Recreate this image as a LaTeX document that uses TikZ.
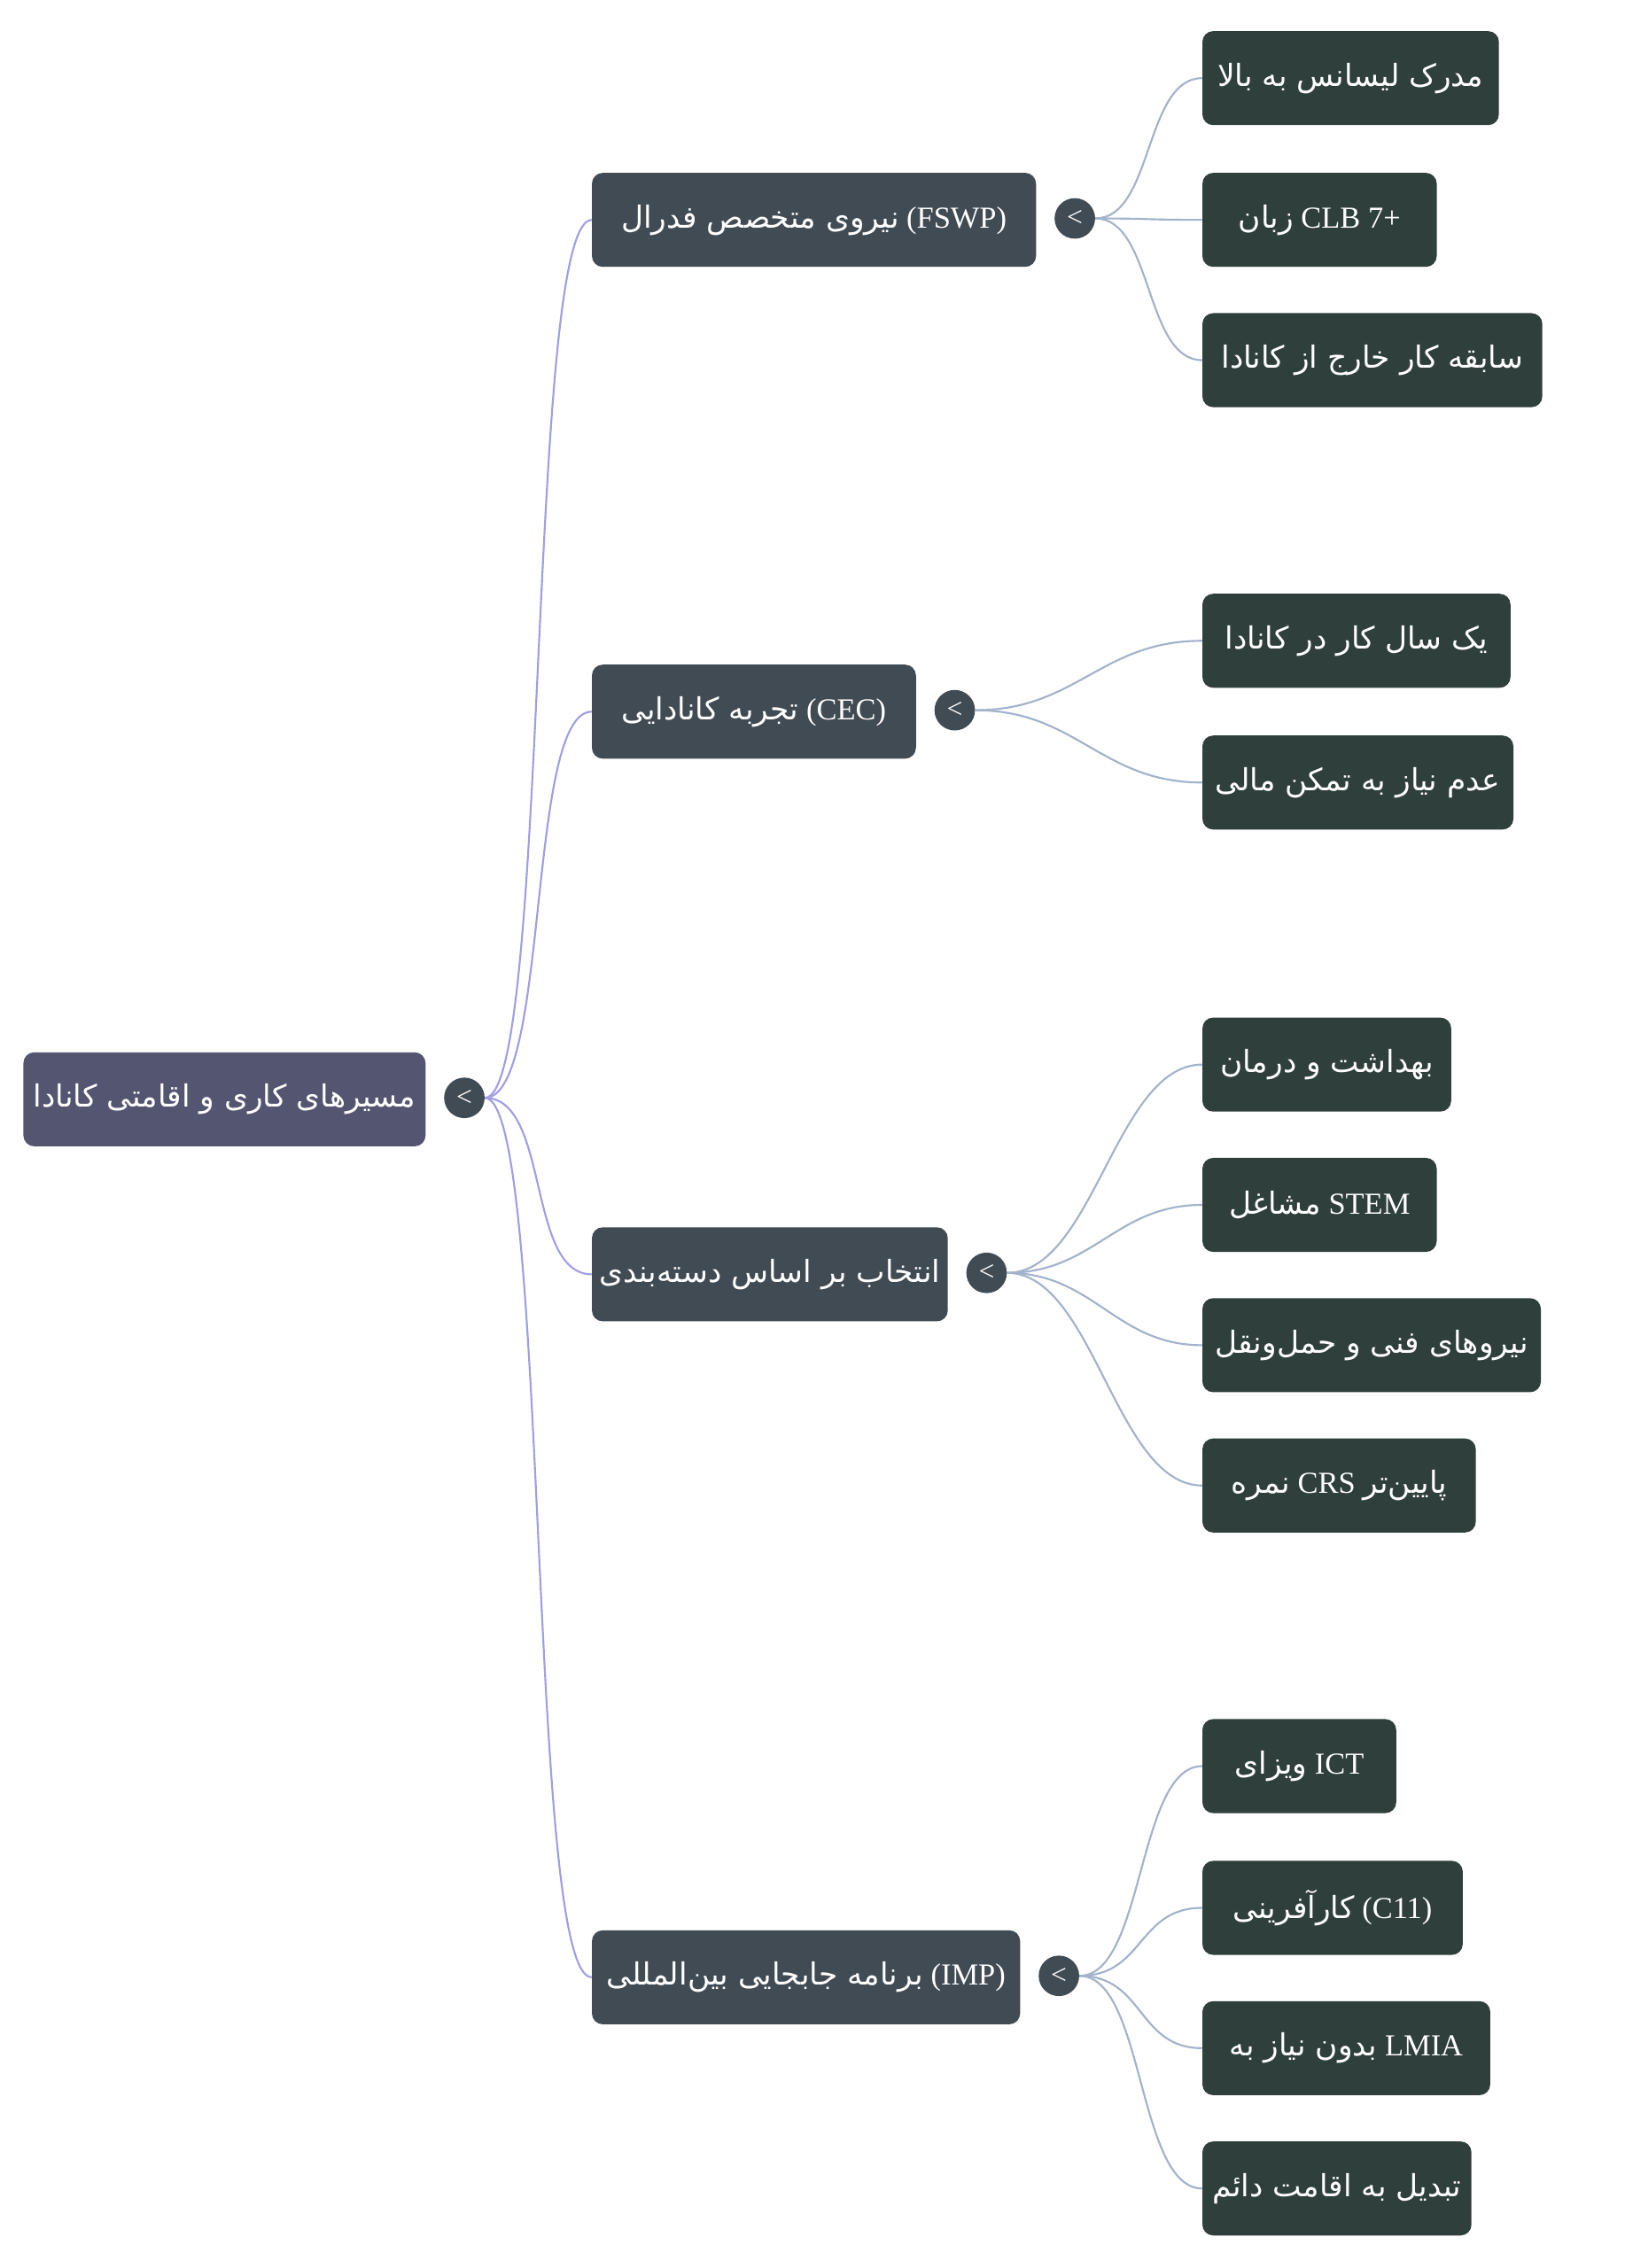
\documentclass[tikz,border=0pt]{standalone}
\usepackage{fontspec}
\setmainfont{Liberation Serif}
\newfontfamily\faf[Script=Arabic]{DejaVu Sans}
\TeXXeTstate=1
\newcommand\fa[1]{{\faf\beginR #1\endR}}
\definecolor{rootfill}{HTML}{545570}
\definecolor{midfill}{HTML}{414B54}
\definecolor{leaffill}{HTML}{2F3F3B}
\definecolor{rootline}{HTML}{A39EE3}
\definecolor{leafline}{HTML}{A2B3CB}
\begin{document}
\begin{tikzpicture}[x=0.04cm, y=-0.04cm,
    box/.style={rounded corners=0.3cm, text=white, minimum height=2.6cm, anchor=west,
      minimum width=#1*0.04cm, font=\fontsize{24}{28}\selectfont, inner sep=0pt},
    rootbox/.style={box=#1, fill=rootfill},
    midbox/.style={box=#1, fill=midfill},
    leafbox/.style={box=#1, fill=leaffill},
    knob/.style={circle, fill=midfill, minimum size=1.12cm, inner sep=0pt, text=white,
      font=\fontsize{22}{22}\selectfont},
    rootedge/.style={draw=rootline, line width=1.5pt},
    leafedge/.style={draw=leafline, line width=1.5pt}]

  \useasboundingbox (0,0) rectangle (1123,1568);

  % root
  \node[rootbox=278] (root) at (16,760) {\fa{مسیرهای کاری و اقامتی کانادا}};
  \node[knob] (rk) at (321,759) {<};

  % first level
  \node[midbox=307] (fswp) at (409,152) {\fa{نیروی متخصص فدرال} (FSWP)};
  \node[knob] (fk) at (743,151) {<};
  \node[midbox=224] (cec) at (409,492) {\fa{تجربه کانادایی} (CEC)};
  \node[knob] (ck) at (660,491) {<};
  \node[midbox=246] (cat) at (409,881) {\fa{انتخاب بر اساس دسته‌بندی}};
  \node[knob] (tk) at (682,880) {<};
  \node[midbox=296] (imp) at (409,1367) {\fa{برنامه جابجایی بین‌المللی} (IMP)};
  \node[knob] (ik) at (732,1366) {<};

  % leaves
  \node[leafbox=205] (f1) at (831,54) {\fa{مدرک لیسانس به بالا}};
  \node[leafbox=162] (f2) at (831,152) {\fa{زبان} CLB 7+};
  \node[leafbox=235] (f3) at (831,249) {\fa{سابقه کار خارج از کانادا}};
  \node[leafbox=213] (c1) at (831,443) {\fa{یک سال کار در کانادا}};
  \node[leafbox=215] (c2) at (831,541) {\fa{عدم نیاز به تمکن مالی}};
  \node[leafbox=172] (t1) at (831,736) {\fa{بهداشت و درمان}};
  \node[leafbox=162] (t2) at (831,833) {\fa{مشاغل} STEM};
  \node[leafbox=234] (t3) at (831,930) {\fa{نیروهای فنی و حمل‌ونقل}};
  \node[leafbox=189] (t4) at (831,1027) {\fa{نمره} CRS \fa{پایین‌تر}};
  \node[leafbox=134] (i1) at (831,1221) {\fa{ویزای} ICT};
  \node[leafbox=180] (i2) at (831,1319) {\fa{کارآفرینی} (C11)};
  \node[leafbox=199] (i3) at (831,1416) {\fa{بدون نیاز به} LMIA};
  \node[leafbox=186] (i4) at (831,1513) {\fa{تبدیل به اقامت دائم}};

  % connectors
  \foreach \m in {fswp,cec,cat,imp}
    \draw[rootedge] (rk.east) .. controls +(45,0) and +(-45,0) .. (\m.west);
  \foreach \l in {f1,f2,f3}
    \draw[leafedge] (fk.east) .. controls +(40,0) and +(-40,0) .. (\l.west);
  \foreach \l in {c1,c2}
    \draw[leafedge] (ck.east) .. controls +(70,0) and +(-70,0) .. (\l.west);
  \foreach \l in {t1,t2,t3,t4}
    \draw[leafedge] (tk.east) .. controls +(60,0) and +(-60,0) .. (\l.west);
  \foreach \l in {i1,i2,i3,i4}
    \draw[leafedge] (ik.east) .. controls +(45,0) and +(-45,0) .. (\l.west);

\end{tikzpicture}
\end{document}
